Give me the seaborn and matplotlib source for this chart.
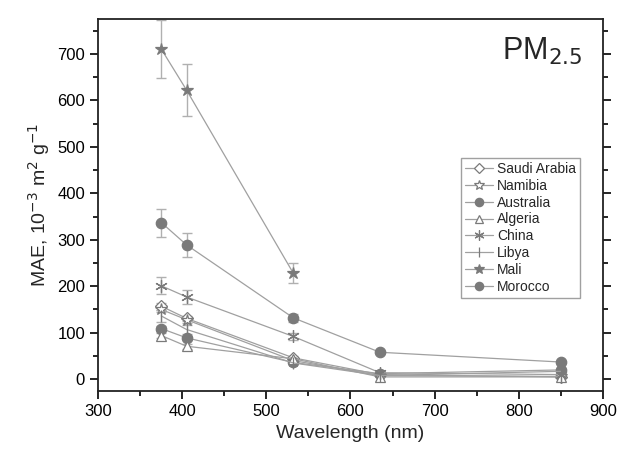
import numpy as np
import pandas as pd
import matplotlib
matplotlib.use("Agg")
import matplotlib.pyplot as plt
import seaborn as sns
from matplotlib.ticker import MultipleLocator

wavelength = [375, 405, 532, 635, 850]

countries = ["Saudi Arabia", "Namibia", "Australia", "Algeria",
             "China", "Libya", "Mali", "Morocco"]

mae = {
    "Saudi Arabia": [157, 131, 46, 10, 5],
    "Namibia": [150, 128, 40, 8, 6],
    "Australia": [109, 89, 36, 12, 20],
    "Algeria": [94, 71, 44, 5, 5],
    "China": [201, 177, 92, 14, 10],
    "Libya": [136, 107, 35, 8, 17],
    "Mali": [710, 622, 228, np.nan, np.nan],
    "Morocco": [337, 289, 132, 58, 37],
}

mae_err = {
    "Saudi Arabia": [8, 6, 3, 1, 1],
    "Namibia": [6, 6, 3, 1, 1],
    "Australia": [6, 5, 3, 1, 1],
    "Algeria": [6, 5, 3, 1, 1],
    "China": [18, 15, 8, 2, 1],
    "Libya": [12, 10, 3, 1, 1],
    "Mali": [62, 56, 21, np.nan, np.nan],
    "Morocco": [30, 26, 8, 3, 2],
}

# marker, filled?, size
styles = {
    "Saudi Arabia": ("D", False, 6),
    "Namibia": ("*", False, 9),
    "Australia": ("o", True, 7.5),
    "Algeria": ("^", False, 7),
    "China": ((6, 2, 0), True, 9),
    "Libya": ("|", True, 9),
    "Mali": ("*", True, 9),
    "Morocco": ("o", True, 7.5),
}

sns.set_style("ticks")
plt.rcParams["font.family"] = ["Liberation Sans", "DejaVu Sans"]

fig, ax = plt.subplots(figsize=(6.22, 4.62), dpi=100)
fig.subplots_adjust(left=0.158, right=0.969, top=0.959, bottom=0.154)

line_col = "#a0a0a0"
mark_col = "#7a7a7a"

for c in countries:
    df = pd.DataFrame({"wl": wavelength, "mae": mae[c], "err": mae_err[c]}).dropna()
    ax.errorbar(df["wl"], df["mae"], yerr=df["err"], fmt="none",
                ecolor="#b0b0b0", elinewidth=1, capsize=3.5, capthick=1, zorder=2)
    m, filled, ms = styles[c]
    sns.lineplot(data=df, x="wl", y="mae", ax=ax, color=line_col, linewidth=0.9,
                 marker=m, markersize=ms,
                 markerfacecolor=mark_col if filled else "white",
                 markeredgecolor=mark_col, markeredgewidth=0.9,
                 label=c, zorder=3)

ax.set_xlim(300, 900)
ax.set_ylim(-25, 775)
ax.xaxis.set_major_locator(MultipleLocator(100))
ax.xaxis.set_minor_locator(MultipleLocator(50))
ax.yaxis.set_major_locator(MultipleLocator(100))
ax.yaxis.set_minor_locator(MultipleLocator(50))
ax.tick_params(which="both", direction="out", right=True, top=False,
               labelsize=12, width=1.2, colors="black")
ax.tick_params(which="major", length=6)
ax.tick_params(which="minor", length=3.5)
for s in ax.spines.values():
    s.set_linewidth(1.3)
    s.set_color("#222222")

ax.set_xlabel("Wavelength (nm)", fontsize=14)
ax.set_ylabel("MAE, 10$^{-3}$ m$^{2}$ g$^{-1}$", fontsize=14)

ax.text(0.96, 0.955, "PM$_{2.5}$", transform=ax.transAxes, ha="right", va="top",
        fontsize=22)

leg = ax.legend(loc="upper left", bbox_to_anchor=(0.705, 0.645), fontsize=10,
                frameon=True, fancybox=False, edgecolor="#888888",
                handlelength=2.0, handletextpad=0.3, borderpad=0.3,
                labelspacing=0.2, markerscale=0.8)
leg.get_frame().set_linewidth(1.0)

fig.savefig("out.png", dpi=100)
